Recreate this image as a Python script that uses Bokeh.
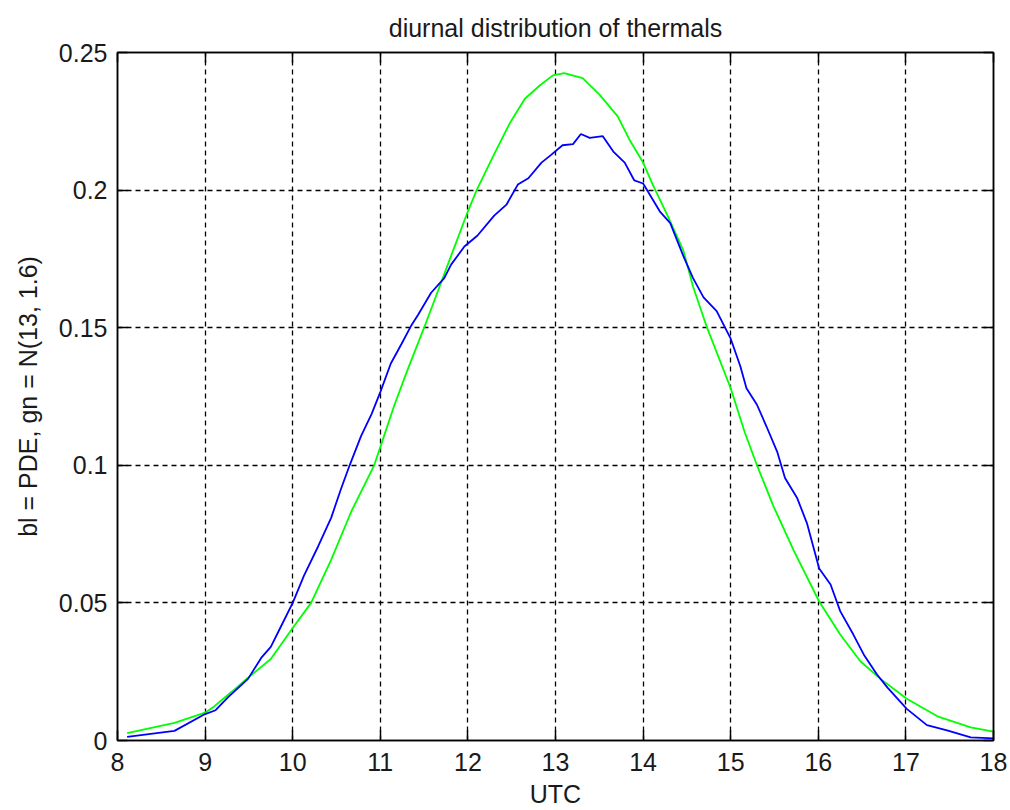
from bokeh.plotting import figure
from bokeh.models import Range1d, LinearAxis, FixedTicker, CustomJSTickFormatter
from bokeh.embed import file_html
from bokeh.resources import INLINE

# Estimated density of thermal onset time (blue) and the fitted normal curve (green)
pde_utc = [8.11, 8.65, 9.0, 9.12, 9.26, 9.49, 9.64, 9.75, 9.87, 10.0, 10.13, 10.29,
           10.44, 10.55, 10.65, 10.78, 10.9, 11.0, 11.12, 11.24, 11.35, 11.43, 11.58,
           11.73, 11.81, 11.96, 12.11, 12.3, 12.44, 12.57, 12.69, 12.84, 12.95, 13.08,
           13.2, 13.29, 13.39, 13.54, 13.66, 13.79, 13.9, 14.0, 14.19, 14.31, 14.46,
           14.57, 14.69, 14.84, 15.0, 15.11, 15.18, 15.3, 15.41, 15.53, 15.62, 15.76,
           15.87, 16.01, 16.14, 16.25, 16.4, 16.52, 16.67, 16.79, 17.01, 17.24, 17.47,
           17.74, 18.0]
pde_val = [0.0013, 0.0035, 0.0096, 0.011, 0.0157, 0.0224, 0.030, 0.034, 0.0417, 0.050,
           0.060, 0.0705, 0.081, 0.0913, 0.100, 0.1106, 0.1186, 0.1266, 0.137, 0.144,
           0.1506, 0.1546, 0.1627, 0.168, 0.173, 0.1795, 0.1835, 0.1907, 0.1947, 0.202,
           0.2043, 0.210, 0.2128, 0.2163, 0.2167, 0.2204, 0.219, 0.2196, 0.214, 0.210,
           0.2035, 0.2024, 0.1923, 0.188, 0.176, 0.168, 0.161, 0.156, 0.146, 0.136,
           0.128, 0.122, 0.114, 0.105, 0.0954, 0.088, 0.079, 0.0625, 0.0567, 0.047,
           0.0385, 0.0312, 0.024, 0.0192, 0.0115, 0.0056, 0.0037, 0.0011, 0.0008]

fit_utc = [8.11, 8.65, 9.0, 9.1, 9.3, 9.49, 9.75, 10.0, 10.21, 10.44, 10.67, 10.93,
           11.0, 11.16, 11.31, 11.5, 11.66, 11.81, 12.0, 12.1, 12.3, 12.48, 12.65,
           12.82, 12.97, 13.1, 13.31, 13.5, 13.71, 13.85, 14.0, 14.11, 14.29, 14.46,
           14.57, 14.73, 15.0, 15.16, 15.3, 15.49, 15.72, 16.01, 16.25, 16.48, 16.71,
           17.01, 17.36, 17.74, 18.0]
fit_val = [0.0027, 0.0064, 0.0101, 0.0123, 0.0176, 0.0228, 0.0296, 0.0409, 0.050,
           0.0657, 0.0833, 0.100, 0.1066, 0.1218, 0.1346, 0.150, 0.1635, 0.1763,
           0.1923, 0.200, 0.2131, 0.2244, 0.2332, 0.238, 0.2417, 0.2425, 0.2407,
           0.2348, 0.2268, 0.218, 0.210, 0.202, 0.190, 0.178, 0.165, 0.150, 0.128,
           0.112, 0.100, 0.085, 0.069, 0.0505, 0.0385, 0.0288, 0.0224, 0.0152,
           0.0088, 0.0048, 0.0032]

x_ticks = [8, 9, 10, 11, 12, 13, 14, 15, 16, 17, 18]
y_ticks = [0, 0.05, 0.1, 0.15, 0.2, 0.25]

FONT = "Liberation Sans"
TXT = "#1a1a1a"

p = figure(width=1010, height=810,
           x_range=Range1d(8, 18), y_range=Range1d(0, 0.25),
           output_backend="svg", toolbar_location=None,
           min_border_left=117, min_border_right=17,
           min_border_top=52, min_border_bottom=69,
           title="diurnal distribution of thermals")

p.title.align = "center"
p.title.text_font = FONT
p.title.text_font_size = "25px"
p.title.text_font_style = "normal"
p.title.text_color = TXT
p.title.offset = 0
p.title.standoff = 21

p.outline_line_color = "black"
p.outline_line_width = 1.5
p.background_fill_color = "white"
p.border_fill_color = "white"

fmt = CustomJSTickFormatter(code="return String(parseFloat(tick.toFixed(4)));")

def style_axis(ax, ticks, labels=True):
    ax.ticker = FixedTicker(ticks=ticks)
    ax.major_tick_in = 10
    ax.major_tick_out = 0
    ax.minor_tick_line_color = None
    ax.major_tick_line_color = "black"
    ax.major_tick_line_width = 1.5
    ax.axis_line_color = "black"
    ax.axis_line_width = 1.5
    ax.major_label_text_font = FONT
    ax.major_label_text_color = TXT
    ax.axis_label_text_font = FONT
    ax.axis_label_text_color = TXT
    ax.axis_label_text_font_style = "normal"
    ax.axis_label_text_font_size = "25px"
    if labels:
        ax.formatter = fmt
        ax.major_label_text_font_size = "25px"
    else:
        # box edges carry ticks only
        ax.major_label_text_color = None
        ax.major_label_text_font_size = "1px"
        ax.major_label_standoff = 0

xa = p.xaxis[0]
ya = p.yaxis[0]
style_axis(xa, x_ticks)
style_axis(ya, y_ticks)
xa.axis_label = "UTC"
ya.axis_label = "bl = PDE, gn = N(13, 1.6)"
xa.major_label_standoff = 12
xa.axis_label_standoff = 6
ya.major_label_standoff = 10
ya.axis_label_standoff = 14

top_ax = LinearAxis()
right_ax = LinearAxis()
style_axis(top_ax, x_ticks, labels=False)
style_axis(right_ax, y_ticks, labels=False)
p.add_layout(top_ax, "above")
p.add_layout(right_ax, "right")

for g in (p.xgrid[0], p.ygrid[0]):
    g.grid_line_color = "black"
    g.grid_line_width = 1.3
    g.grid_line_dash = "5 4"
p.xgrid[0].ticker = FixedTicker(ticks=x_ticks)
p.ygrid[0].ticker = FixedTicker(ticks=y_ticks)

p.line(fit_utc, fit_val, line_color="#00ff00", line_width=1.8)
p.line(pde_utc, pde_val, line_color="#0000ff", line_width=1.8)

open("out.html", "w").write(file_html(p, INLINE))
